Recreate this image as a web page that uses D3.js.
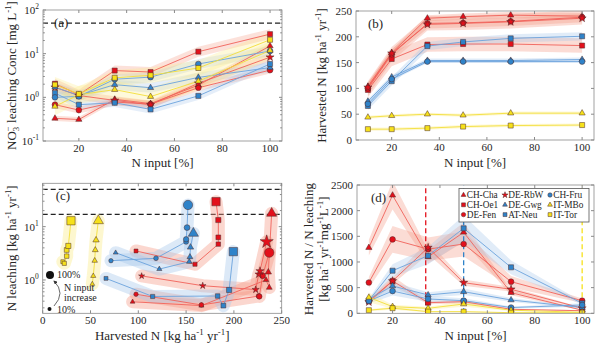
<!DOCTYPE html>
<html>
<head>
<meta charset="utf-8">
<script src="https://cdn.jsdelivr.net/npm/d3@7"></script>
<style>
  body { margin: 0; background: #fff; }
  svg { display: block; font-family: "Liberation Serif", "Times New Roman", serif; }
</style>
</head>
<body>
<svg id="chart" width="600" height="348"></svg>
<script>
// N input levels (% of normal fertilisation)
const nInput = [10, 20, 35, 50, 70, 100];

const sites = ['CH-Cha', 'CH-Oe1', 'DE-Fen', 'DE-RbW', 'DE-Gwg', 'AT-Neu', 'CH-Fru', 'IT-MBo', 'IT-Tor'];
const siteGroup = ['red', 'red', 'red', 'red', 'blue', 'blue', 'blue', 'yellow', 'yellow'];
const siteShape = ['triangle', 'square', 'circle', 'star', 'triangle', 'square', 'circle', 'triangle', 'square'];

// (a) NO3- leaching concentration [mg/L]
const concA = [
    [0.33, 0.31, 0.9, 0.72, 1.9, 15],
    [2.05, 1.15, 4.1, 3.8, 11.1, 28],
    [0.68, 0.51, 0.78, 0.7, 1.66, 4.2],
    [1.7, 1.1, 0.85, 0.68, 2.1, 8.3],
    [1.7, 1.1, 1.95, 1.66, 2.86, 4.8],
    [1.25, 0.68, 0.75, 0.53, 1.08, 5.8],
    [1.0, 1.05, 2.6, 2.9, 5.8, 11.5],
    [0.62, 1.15, 1.5, 1.04, 2.34, 11.8],
    [1.95, 1.2, 2.8, 3.2, 4.7, 20.8]
];
const bandA = [1.15, 1.3, 1.2, 1.25, 1.3, 1.25, 1.3, 1.6, 1.5];

// (b) harvested N [kg/ha/yr]
const harvB = [
    [104, 169, 236, 239, 242, 240],
    [97, 157, 185, 186, 186, 183],
    [100, 166, 226, 227, 230, 238],
    [102, 168, 224, 226, 229, 236],
    [75, 122, 154, 154, 154, 156],
    [66, 114, 182, 190, 197, 201],
    [70, 118, 152, 152, 152, 152],
    [44, 47, 50, 48, 52, 52],
    [21, 21, 23, 26, 28, 29]
];
const bandB = [6, 14, 14, 8, 4, 8, 3, 3, 3];

// (c) harvested N vs N leaching [kg/ha/yr]
const harvC = [
    [94, 166, 233.6, 237, 236, 239.5],
    [97.6, 159.3, 183.7, 183.7, 183.7, 181.3],
    [97.6, 166, 226, 226.6, 230, 237],
    [103.5, 167.4, 222.8, 226, 227.3, 234.3],
    [76.3, 122, 153.3, 154, 154.6, 157.6],
    [66.2, 115, 183, 189, 195, 199.4],
    [71.4, 118.5, 150, 150, 151, 152],
    [51.9, 52.9, 54.4, 55, 55.8, 58.2],
    [21, 22.6, 25.1, 25.1, 26.8, 29.6]
];
const leachC = [
    [0.39, 0.33, 1.0, 0.72, 1.4, 17.8],
    [3.5, 1.97, 4.7, 6.3, 13.3, 29.4],
    [0.54, 0.34, 0.5, 0.49, 1.2, 3.25],
    [1.19, 0.78, 0.66, 1.28, 1.47, 5.2],
    [3.25, 1.6, 2.2, 2.7, 4.1, 7.5],
    [1.07, 0.49, 0.5, 0.33, 0.65, 3.4],
    [2.3, 2.55, 5.2, 5.8, 9.6, 25.5],
    [0.84, 1.19, 2.3, 3.65, 5.6, 12.9],
    [2.2, 2.05, 2.8, 3.65, 4.35, 12.9]
];
const limitsC = [50, 17];

// (d) harvested N / N leaching
const ratioD = [
    [1280, 2300, 1100, 1578, 402, 60],
    [240, 630, 207, 227, 78, 50],
    [600, 1440, 1250, 1350, 616, 246],
    [220, 630, 1280, 597, 468, 100],
    [280, 532, 357, 421, 259, 112],
    [250, 830, 1123, 1656, 896, 195],
    [240, 434, 279, 246, 112, 162],
    [310, 130, 97, 181, 60, 20],
    [60, 100, 32, 32, 12, 12]
];
const bandD = [0.12, 0.15, 0.18, 0.1, 0.15, 0.15, 0.2, 0.3, 0.3];
const optimumD = [34, 50, 100];
const optimumGroup = ['red', 'blue', 'yellow'];

const palette = {
    red: {mark: '#e3101b', line: '#f0625a', band: '#f49a86'},
    blue: {mark: '#2f83c9', line: '#6ba3dc', band: '#a8c8ec'},
    yellow: {mark: '#f6e11a', line: '#f3df3a', band: '#fbec88'}
};
const shapeType = {
    triangle: d3.symbolTriangle, square: d3.symbolSquare,
    circle: d3.symbolCircle, star: d3.symbolStar
};
const shapeScale = {triangle: 0.62, square: 0.95, circle: 0.95, star: 0.75};

const svg = d3.select('#chart');
const axisGray = '#8a8a8a';
const textCol = '#262626';

// text with super/subscripts: parts = [[str, mode]], mode '' | 'sup' | 'sub' | 'over' (sup stacked above previous sub)
function rich(text, parts, fs) {
    let shift = 0;
    parts.forEach(([s, m]) => {
        const target = m === 'sup' ? -0.42 * fs : m === 'sub' ? 0.25 * fs : m === 'over' ? -0.42 * fs : 0;
        const t = text.append('tspan').text(s);
        if (target - shift !== 0) t.attr('dy', target - shift);
        if (m) t.attr('font-size', fs * 0.68);
        if (m === 'over') t.attr('dx', -fs * 0.34);
        shift = target;
    });
    return text;
}

function frame(x, y, opts) {
    const g = svg.append('g');
    const [x0, x1] = x.range();
    const [y0, y1] = y.range();
    g.append('rect')
        .attr('x', x0).attr('y', y1)
        .attr('width', x1 - x0).attr('height', y0 - y1)
        .attr('fill', 'none').attr('stroke', axisGray).attr('stroke-width', 0.8);

    opts.xTicks.forEach(v => {
        const px = x(v);
        g.append('line').attr('x1', px).attr('x2', px).attr('y1', y0).attr('y2', y0 - 3).attr('stroke', axisGray);
        g.append('line').attr('x1', px).attr('x2', px).attr('y1', y1).attr('y2', y1 + 3).attr('stroke', axisGray);
        g.append('text').attr('x', px).attr('y', y0 + 11)
            .attr('text-anchor', 'middle').attr('font-size', 11).attr('fill', textCol).text(v);
    });

    if (opts.log) {
        const [d0, d1] = y.domain();
        for (let e = Math.floor(Math.log10(d0)); e <= Math.ceil(Math.log10(d1)); e++) {
            for (let m = 1; m < 10; m++) {
                const v = m * Math.pow(10, e);
                if (v < d0 || v > d1) continue;
                const py = y(v), len = m === 1 ? 3 : 1.8;
                g.append('line').attr('x1', x0).attr('x2', x0 + len).attr('y1', py).attr('y2', py).attr('stroke', axisGray);
                g.append('line').attr('x1', x1).attr('x2', x1 - len).attr('y1', py).attr('y2', py).attr('stroke', axisGray);
            }
        }
        opts.yTicks.forEach(v => {
            const e = Math.round(Math.log10(v));
            const t = g.append('text').attr('x', x0 - 4).attr('y', y(v) + 4)
                .attr('text-anchor', 'end').attr('font-size', 11).attr('fill', textCol);
            rich(t, [['10', ''], [String(e), 'sup']], 11);
        });
    } else {
        opts.yTicks.forEach(v => {
            const py = y(v);
            g.append('line').attr('x1', x0).attr('x2', x0 + 3).attr('y1', py).attr('y2', py).attr('stroke', axisGray);
            g.append('line').attr('x1', x1).attr('x2', x1 - 3).attr('y1', py).attr('y2', py).attr('stroke', axisGray);
            g.append('text').attr('x', x0 - 4).attr('y', py + 4)
                .attr('text-anchor', 'end').attr('font-size', 11).attr('fill', textCol).text(v);
        });
    }

    const xt = g.append('text').attr('x', (x0 + x1) / 2).attr('y', opts.xLabelY)
        .attr('text-anchor', 'middle').attr('font-size', 13).attr('fill', textCol);
    rich(xt, opts.xLabel, 13);

    opts.yLabels.forEach((parts, i) => {
        const yt = g.append('text')
            .attr('transform', `translate(${opts.yLabelX[i]},${(y0 + y1) / 2}) rotate(-90)`)
            .attr('text-anchor', 'middle').attr('font-size', 13).attr('fill', textCol);
        rich(yt, parts, 13);
    });

    g.append('text').attr('x', x0 + opts.tag[0]).attr('y', y1 + opts.tag[1])
        .attr('font-size', 13).attr('fill', textCol).text(opts.tagText);
}

function marker(g, cx, cy, i, size) {
    const shape = siteShape[i];
    g.append('path')
        .attr('d', d3.symbol(shapeType[shape], size * size * shapeScale[shape])())
        .attr('transform', `translate(${cx},${cy})`)
        .attr('fill', palette[siteGroup[i]].mark)
        .attr('stroke', '#4a2a2a').attr('stroke-width', 0.5);
}

function clip(id, x, y) {
    const [x0, x1] = x.range(), [y0, y1] = y.range();
    svg.append('clipPath').attr('id', id).append('rect')
        .attr('x', x0).attr('y', y1).attr('width', x1 - x0).attr('height', y0 - y1);
    return `url(#${id})`;
}

const kgUnit = [['[kg ha', ''], ['-1', 'sup'], [' yr', ''], ['-1', 'sup'], [']', '']];

// ---------- (a) ----------
const xA = d3.scaleLinear([5, 105], [43, 282]);
const yA = d3.scaleLog([0.1, 100], [141, 10]);
const gA = svg.append('g').attr('clip-path', clip('clipA', xA, yA));

gA.append('line').attr('x1', xA(5)).attr('x2', xA(105)).attr('y1', yA(50)).attr('y2', yA(50))
    .attr('stroke', '#222').attr('stroke-width', 1.3).attr('stroke-dasharray', '5,3');

concA.forEach((vals, i) => {
    const area = d3.area()
        .x((d, j) => xA(nInput[j]))
        .y0(d => yA(d / bandA[i])).y1(d => yA(d * bandA[i]));
    gA.append('path').attr('d', area(vals))
        .attr('fill', palette[siteGroup[i]].band).attr('fill-opacity', 0.3);
});
concA.forEach((vals, i) => {
    const line = d3.line().x((d, j) => xA(nInput[j])).y(d => yA(d));
    gA.append('path').attr('d', line(vals)).attr('fill', 'none')
        .attr('stroke', palette[siteGroup[i]].line).attr('stroke-width', 0.9);
});
concA.forEach((vals, i) => vals.forEach((d, j) => marker(gA, xA(nInput[j]), yA(d), i, 5.2)));

frame(xA, yA, {
    log: true, xTicks: [20, 40, 60, 80, 100], yTicks: [0.1, 1, 10, 100],
    xLabel: [['N input [%]', '']], xLabelY: 167,
    yLabels: [[['NO', ''], ['3', 'sub'], ['\u2212', 'over'], [' leaching Conc [mg L', ''], ['-1', 'sup'], [']', '']]],
    yLabelX: [16], tag: [11, 17], tagText: '(a)'
});

// ---------- (b) ----------
const xB = d3.scaleLinear([5, 105], [356, 594]);
const yB = d3.scaleLinear([0, 250], [140, 11]);
const gB = svg.append('g').attr('clip-path', clip('clipB', xB, yB));

harvB.forEach((vals, i) => {
    const area = d3.area()
        .x((d, j) => xB(nInput[j]))
        .y0(d => yB(d - bandB[i])).y1(d => yB(d + bandB[i]));
    gB.append('path').attr('d', area(vals))
        .attr('fill', palette[siteGroup[i]].band).attr('fill-opacity', 0.35);
});
harvB.forEach((vals, i) => {
    const line = d3.line().x((d, j) => xB(nInput[j])).y(d => yB(d));
    gB.append('path').attr('d', line(vals)).attr('fill', 'none')
        .attr('stroke', palette[siteGroup[i]].line).attr('stroke-width', 0.9);
});
harvB.forEach((vals, i) => vals.forEach((d, j) => marker(gB, xB(nInput[j]), yB(d), i, 5.2)));

frame(xB, yB, {
    xTicks: [20, 40, 60, 80, 100], yTicks: [0, 50, 100, 150, 200, 250],
    xLabel: [['N input [%]', '']], xLabelY: 167,
    yLabels: [[['Harvested N ', '']].concat(kgUnit)],
    yLabelX: [326], tag: [12, 17], tagText: '(b)'
});

// ---------- (c) ----------
const xC = d3.scaleLinear([0, 250], [42.7, 281.7]);
const yC = d3.scaleLog([0.237, 65], [313.3, 183.3]);
const gC = svg.append('g').attr('clip-path', clip('clipC', xC, yC));
const sizeC = [4, 4.3, 4.6, 4.9, 5.3, 8.5];

limitsC.forEach(v => {
    gC.append('line').attr('x1', xC(0)).attr('x2', xC(250)).attr('y1', yC(v)).attr('y2', yC(v))
        .attr('stroke', '#222').attr('stroke-width', 1.3).attr('stroke-dasharray', '5,3');
});

const lineC = (i) => d3.line().x((d, j) => xC(harvC[i][j])).y(d => yC(d));
leachC.forEach((vals, i) => {
    gC.append('path').attr('d', lineC(i)(vals)).attr('fill', 'none')
        .attr('stroke', palette[siteGroup[i]].band).attr('stroke-opacity', 0.4)
        .attr('stroke-width', 13).attr('stroke-linejoin', 'round').attr('stroke-linecap', 'round');
});
leachC.forEach((vals, i) => {
    gC.append('path').attr('d', lineC(i)(vals)).attr('fill', 'none')
        .attr('stroke', palette[siteGroup[i]].line).attr('stroke-width', 0.9);
});
leachC.forEach((vals, i) => vals.forEach((d, j) => marker(gC, xC(harvC[i][j]), yC(d), i, sizeC[j])));

// size legend
svg.append('defs').append('marker')
    .attr('id', 'arrow').attr('viewBox', '0 0 10 10').attr('refX', 8).attr('refY', 5)
    .attr('markerWidth', 5).attr('markerHeight', 5).attr('orient', 'auto')
    .append('path').attr('d', 'M0,0L10,5L0,10z').attr('fill', '#333');
svg.append('circle').attr('cx', 50).attr('cy', 275).attr('r', 4).attr('fill', '#111');
svg.append('circle').attr('cx', 49.5).attr('cy', 309).attr('r', 2).attr('fill', '#111');
svg.append('path').attr('d', 'M54,306 Q66,293 54,281').attr('fill', 'none')
    .attr('stroke', '#444').attr('stroke-width', 0.8).attr('marker-end', 'url(#arrow)');
[['100%', 57, 278], ['N input', 64, 291], ['increase', 64, 301], ['10%', 57, 313]].forEach(([s, x, y]) => {
    svg.append('text').attr('x', x).attr('y', y).attr('font-size', 10).attr('fill', textCol).text(s);
});

frame(xC, yC, {
    log: true, xTicks: [0, 50, 100, 150, 200, 250], yTicks: [1, 10],
    xLabel: [['Harvested N ', '']].concat(kgUnit), xLabelY: 340,
    yLabels: [[['N leaching ', '']].concat(kgUnit)],
    yLabelX: [16], tag: [13, 17], tagText: '(c)'
});

// ---------- (d) ----------
const xD = d3.scaleLinear([5, 105], [357, 594]);
const yD = d3.scaleLinear([0, 2500], [313.3, 185]);
const gD = svg.append('g').attr('clip-path', clip('clipD', xD, yD));

ratioD.forEach((vals, i) => {
    const area = d3.area()
        .x((d, j) => xD(nInput[j]))
        .y0(d => yD(d * (1 - bandD[i]))).y1(d => yD(d * (1 + bandD[i])));
    gD.append('path').attr('d', area(vals))
        .attr('fill', palette[siteGroup[i]].band).attr('fill-opacity', 0.35);
});
optimumD.forEach((v, k) => {
    gD.append('line').attr('x1', xD(v)).attr('x2', xD(v)).attr('y1', yD(0)).attr('y2', yD(2500))
        .attr('stroke', palette[optimumGroup[k]].mark).attr('stroke-width', 1.3).attr('stroke-dasharray', '5,3');
});
ratioD.forEach((vals, i) => {
    const line = d3.line().x((d, j) => xD(nInput[j])).y(d => yD(d));
    gD.append('path').attr('d', line(vals)).attr('fill', 'none')
        .attr('stroke', palette[siteGroup[i]].line).attr('stroke-width', 0.9);
});
ratioD.forEach((vals, i) => vals.forEach((d, j) => marker(gD, xD(nInput[j]), yD(d), i, 5.2)));

frame(xD, yD, {
    xTicks: [20, 40, 60, 80, 100], yTicks: [0, 500, 1000, 1500, 2000, 2500],
    xLabel: [['N input [%]', '']], xLabelY: 340,
    yLabels: [
        [['Harvested N / N leaching', '']],
        [['[kg ha', ''], ['-1', 'sup'], [' yr', ''], ['-1', 'sup'], ['mg', ''], ['-1', 'sup'], ['L', ''], ['-1', 'sup'], [']', '']]
    ],
    yLabelX: [313, 328], tag: [14, 17], tagText: '(d)'
});

// legend (d)
const leg = svg.append('g');
leg.append('rect').attr('x', 459).attr('y', 188.5).attr('width', 130).attr('height', 33.5)
    .attr('fill', '#fff').attr('stroke', '#555').attr('stroke-width', 0.8);
const legCols = [463.5, 505, 550];
sites.forEach((s, i) => {
    const col = Math.floor(i / 3), row = i % 3;
    const lx = legCols[col], ly = 195 + row * 9.8;
    marker(leg, lx, ly, i, 4);
    leg.append('text').attr('x', lx + 3.2).attr('y', ly + 3.3)
        .attr('font-size', 9.3).attr('fill', textCol).text(s);
});
</script>
</body>
</html>
